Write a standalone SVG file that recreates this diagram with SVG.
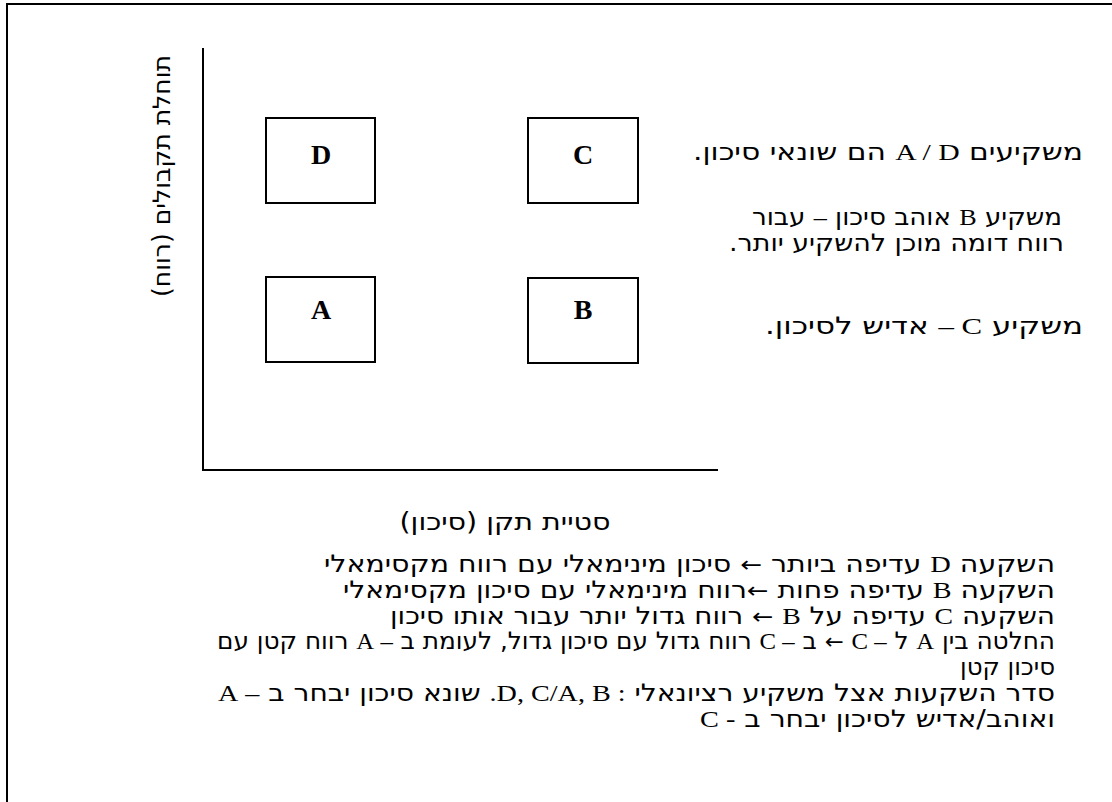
<svg xmlns="http://www.w3.org/2000/svg" width="1112" height="802" viewBox="0 0 1112 802">
<style>
.frame{stroke:#000;stroke-width:2;fill:none}
.axis{stroke:#000;stroke-width:2;fill:none}
.box{fill:#fff;stroke:#000;stroke-width:2}
.lbl{font-family:"Liberation Serif",serif;font-weight:bold;font-size:28px;text-anchor:middle;fill:#000}
.t{font-family:"DejaVu Sans",sans-serif;font-size:24px;fill:#000;direction:rtl;text-anchor:start}
.tc{font-family:"DejaVu Sans",sans-serif;font-size:24px;fill:#000;direction:rtl;text-anchor:middle}
.l{font-family:"Liberation Serif",serif;font-size:24px}
.ar{font-family:"DejaVu Sans",sans-serif;font-size:22px}
</style>
<rect width="1112" height="802" fill="#fff"/>
<g id="frame">
<path class="frame" d="M7,802 V4 H1112"/>
</g>
<g id="axes">
<path class="axis" d="M203,48 V470 H718"/>
<text class="tc" transform="translate(170,176) rotate(-90)" textLength="242" lengthAdjust="spacingAndGlyphs">תוחלת תקבולים (רווח)</text>
<text class="tc" x="505" y="530" textLength="211" lengthAdjust="spacingAndGlyphs">סטיית תקן (סיכון)</text>
</g>
<g id="node-D"><rect class="box" x="266" y="118" width="109" height="85"/><text class="lbl" x="321" y="164">D</text></g>
<g id="node-C"><rect class="box" x="528" y="118" width="110" height="85"/><text class="lbl" x="583" y="164">C</text></g>
<g id="node-A"><rect class="box" x="266" y="277" width="109" height="85"/><text class="lbl" x="321" y="319">A</text></g>
<g id="node-B"><rect class="box" x="528" y="278" width="110" height="85"/><text class="lbl" x="583" y="319">B</text></g>
<g id="connectors"></g>
<g id="side-text">
<text class="t" x="1083" y="160" textLength="390" lengthAdjust="spacingAndGlyphs">משקיעים <tspan class="l">A / D</tspan> הם שונאי סיכון.</text>
<text class="t" x="1062" y="225" textLength="310" lengthAdjust="spacingAndGlyphs">משקיע <tspan class="l">B</tspan> אוהב סיכון <tspan class="l">–</tspan> עבור</text>
<text class="t" x="1064" y="251" textLength="335" lengthAdjust="spacingAndGlyphs">רווח דומה מוכן להשקיע יותר.</text>
<text class="t" x="1083" y="334" textLength="318" lengthAdjust="spacingAndGlyphs">משקיע <tspan class="l">C –</tspan> אדיש לסיכון.</text>
</g>
<g id="bottom-text">
<text class="t" x="1055" y="572" textLength="731" lengthAdjust="spacingAndGlyphs">השקעה <tspan class="l">D</tspan> עדיפה ביותר <tspan class="ar">←</tspan> סיכון מינימאלי עם רווח מקסימאלי</text>
<text class="t" x="1055" y="598" textLength="712" lengthAdjust="spacingAndGlyphs">השקעה <tspan class="l">B</tspan> עדיפה פחות <tspan class="ar">←</tspan>רווח מינימאלי עם סיכון מקסימאלי</text>
<text class="t" x="1055" y="624" textLength="665" lengthAdjust="spacingAndGlyphs">השקעה <tspan class="l">C</tspan> עדיפה על <tspan class="l">B</tspan> <tspan class="ar">←</tspan> רווח גדול יותר עבור אותו סיכון</text>
<text class="t" x="1055" y="649" textLength="838" lengthAdjust="spacingAndGlyphs">החלטה בין <tspan class="l">A</tspan> ל <tspan class="l">– C</tspan> <tspan class="ar">←</tspan> ב <tspan class="l">– C</tspan> רווח גדול עם סיכון גדול, לעומת ב <tspan class="l">– A</tspan> רווח קטן עם</text>
<text class="t" x="1055" y="675" textLength="95" lengthAdjust="spacingAndGlyphs">סיכון קטן</text>
<text class="t" x="1055" y="701" textLength="837" lengthAdjust="spacingAndGlyphs">סדר השקעות אצל משקיע רציונאלי <tspan class="l">: D, C/A, B.</tspan> שונא סיכון יבחר ב <tspan class="l">– A</tspan></text>
<text class="t" x="1055" y="727" textLength="355" lengthAdjust="spacingAndGlyphs">ואוהב/אדיש לסיכון יבחר ב <tspan class="l">- C</tspan></text>
</g>
</svg>
